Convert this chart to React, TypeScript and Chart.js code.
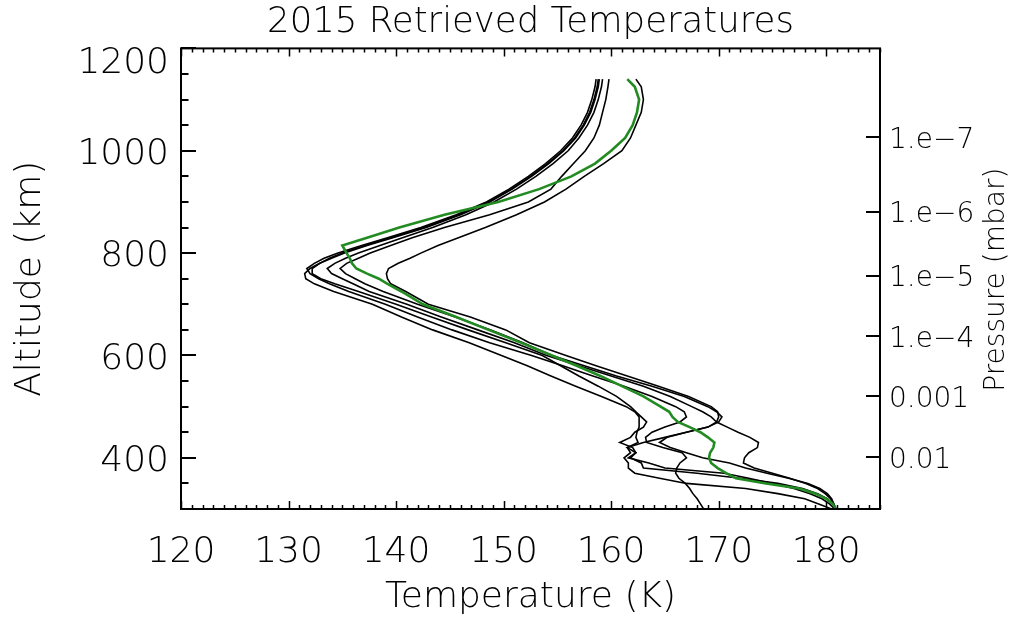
import React, { useEffect, useRef } from 'react';
import { Chart, registerables } from 'chart.js';

Chart.register(...registerables);

// ---------------- data ----------------
const altitudes = [
  300, 310, 320, 330, 340, 350, 360, 370, 380, 390, 400, 410, 420, 430, 440, 450, 460, 470, 480, 490, 500,
  520, 540, 560, 580, 600, 625, 650, 675, 700, 725, 740, 750, 760, 770, 780, 790, 800, 815, 830, 850,
  875, 900, 925, 950, 975, 1000, 1025, 1050, 1075, 1100, 1125, 1140,
];

const tempGreen = [
  180.9, 180.6, 180.0, 179.0, 177.5, 174.4, 171.6, 170.7, 169.9, 169.3, 169.1, 169.2, 169.5, 169.6, 169.0, 168.3, 167.3, 166.2, 165.7, 165.4, 164.6,
  163.0, 161.0, 159.0, 156.8, 154.5, 151.6, 148.6, 145.6, 142.5, 140.5, 139.2, 138.4, 137.3, 136.3, 135.9, 135.7, 135.4, 135.0, 137.3, 140.3,
  144.5, 149.5, 153.3, 156.3, 158.5, 160.0, 161.3, 162.0, 162.4, 162.6, 162.2, 161.5,
];

const tempR = [
  180.9, 180.7, 180.4, 179.9, 179.2, 178.1, 176.6, 175.0, 173.3, 172.3, 172.4, 172.8, 173.6, 173.7, 172.9, 171.8, 170.8, 169.8, 170.0, 169.9, 169.3,
  167.2, 164.4, 161.5, 158.6, 155.8, 152.4, 150.2, 146.9, 143.0, 140.9, 139.5, 139.2, 139.1, 139.3, 140.2, 141.3, 142.3, 143.9, 145.8, 148.3,
  151.2, 153.8, 155.8, 157.5, 159.3, 161.0, 161.8, 162.3, 162.8, 163.0, 162.8, 162.3,
];

const tempC1 = [
  168.6, 168.3, 168.0, 167.6, 167.3, 166.9, 166.3, 166.0, 166.1, 166.4, 167.0, 166.6, 164.8, 163.3, 163.2, 163.8, 165.0, 166.4, 167.0, 166.8, 166.0,
  163.8, 161.2, 158.3, 155.5, 152.6, 148.7, 145.2, 142.0, 139.0, 135.6, 133.8, 132.8, 132.0, 131.7, 132.4, 133.3, 134.6, 136.8, 139.2, 142.3,
  145.6, 148.4, 150.5, 152.3, 153.9, 155.3, 156.4, 157.2, 157.8, 158.2, 158.5, 158.6,
];

const tempC2 = [
  180.5, 179.3, 178.0, 175.5, 172.5, 167.0, 164.5, 162.2, 161.6, 161.6, 161.2, 161.8, 161.5, 162.5, 162.3, 162.4, 162.6, 162.6, 162.6, 162.2, 161.4,
  159.1, 156.7, 154.4, 152.2, 149.8, 146.8, 143.4, 140.5, 137.8, 134.2, 132.4, 131.6, 131.5, 132.0, 132.9, 134.0, 135.2, 137.3, 139.7, 142.8,
  146.0, 148.7, 150.8, 152.6, 154.2, 155.6, 156.7, 157.5, 158.1, 158.5, 158.8, 158.9,
];

const tempC3 = [
  180.9, 180.6, 180.1, 179.2, 177.8, 175.5, 172.0, 168.0, 163.0, 162.8, 161.8, 162.3, 161.5, 163.0, 165.0, 167.0, 169.0, 169.8, 169.3, 168.5, 167.5,
  165.5, 163.0, 160.0, 157.0, 154.0, 151.0, 147.6, 144.2, 141.0, 137.5, 136.0, 135.0, 134.0, 133.6, 134.3, 135.3, 136.5, 138.5, 140.6, 143.4,
  146.5, 149.1, 151.2, 153.0, 154.6, 156.0, 157.0, 157.8, 158.4, 158.8, 159.1, 159.2,
];

const tempC4 = [
  180.9, 180.7, 180.5, 180.1, 179.4, 178.3, 176.5, 174.5, 172.5, 171.0, 168.5, 167.0, 165.5, 164.5, 165.2, 167.0, 169.0, 170.0, 170.3, 169.8, 169.0,
  166.8, 163.8, 160.5, 157.5, 154.5, 151.8, 148.8, 145.5, 142.0, 138.8, 137.1, 136.2, 135.3, 134.8, 135.4, 136.5, 137.6, 139.5, 141.5, 144.5,
  148.7, 152.3, 154.4, 155.4, 156.5, 157.6, 158.4, 158.9, 159.2, 159.5, 159.7, 159.8,
];

const tempC5 = [
  180.8, 180.3, 179.6, 178.5, 177.0, 175.0, 172.8, 170.5, 165.0, 163.5, 161.6, 162.3, 162.0, 160.8, 161.8, 162.2, 163.0, 163.3, 162.8, 162.3, 161.8,
  160.5, 158.8, 157.0, 155.3, 153.6, 150.2, 146.7, 143.3, 140.0, 136.5, 134.3, 133.0, 132.2, 132.2, 132.9, 133.8, 135.0, 137.1, 139.5, 142.6,
  145.8, 148.6, 150.7, 152.5, 154.1, 155.5, 156.6, 157.4, 158.0, 158.4, 158.7, 158.8,
];

const blackProfiles = [tempR, tempC1, tempC2, tempC3, tempC4, tempC5];

const xTickValues = [120, 130, 140, 150, 160, 170, 180];
const yTickValues = [400, 600, 800, 1000, 1200];
const pressureLabels = ['1.e\u22127', '1.e\u22126', '1.e\u22125', '1.e\u22124', '0.001', '0.01'];
const pressureAltitudes = [1027, 881, 756, 638, 521, 402];

const X_MIN = 120;
const X_MAX = 185;
const Y_MIN = 300;
const Y_MAX = 1200;

const FONT_FAMILY = '"DejaVu Sans", "Liberation Sans", sans-serif';
const FONT_WEIGHT = 200;

// ---------------- plugin: frame, inward ticks, right title ----------------
const framePlugin = {
  id: 'frameTicks',
  afterDraw(chart: any) {
    const { ctx, chartArea } = chart;
    const { left, right, top, bottom } = chartArea;
    const xs = chart.scales.x;
    const ys = chart.scales.y;
    const ys2 = chart.scales.y2;
    ctx.save();
    ctx.strokeStyle = '#000';
    ctx.lineWidth = 2;
    ctx.strokeRect(left, top, right - left, bottom - top);

    ctx.lineWidth = 1.5;
    ctx.beginPath();
    for (let v = X_MIN; v <= X_MAX; v += 1) {
      const px = Math.round(xs.getPixelForValue(v)) + 0.5;
      const major = v % 10 === 0;
      const len = major ? 8 : 4;
      ctx.moveTo(px, bottom);
      ctx.lineTo(px, bottom - len);
      ctx.moveTo(px, top);
      ctx.lineTo(px, top + len);
    }
    ctx.stroke();

    ctx.lineWidth = 2;
    ctx.beginPath();
    for (let a = Y_MIN; a <= Y_MAX; a += 50) {
      const py = Math.round(ys.getPixelForValue(a));
      const major = a % 200 === 0;
      const len = major ? 15 : 7.5;
      ctx.moveTo(left, py);
      ctx.lineTo(left + len, py);
    }
    pressureAltitudes.forEach((a) => {
      const py = Math.round(ys2.getPixelForValue(a));
      ctx.moveTo(right, py);
      ctx.lineTo(right - 14, py);
    });
    ctx.stroke();

    // right axis title, reading bottom-to-top
    ctx.save();
    ctx.translate(997, (top + bottom) / 2 + 1);
    ctx.rotate(-Math.PI / 2);
    ctx.fillStyle = '#000';
    ctx.font = `${FONT_WEIGHT} 28px ${FONT_FAMILY}`;
    ctx.textAlign = 'center';
    ctx.textBaseline = 'middle';
    ctx.fillText('Pressure (mbar)', 0, 0);
    ctx.restore();
    ctx.restore();
  },
};

export default function App() {
  const canvasRef = useRef<HTMLCanvasElement | null>(null);

  useEffect(() => {
    if (!canvasRef.current) return;
    const toPoints = (temps: number[]) => altitudes.map((a, i) => ({ x: temps[i], y: a }));

    const datasets: any[] = [
      {
        label: '2015 mean',
        data: toPoints(tempGreen),
        borderColor: 'rgb(34,139,34)',
        borderWidth: 2.6,
        showLine: true,
        pointRadius: 0,
        tension: 0,
      },
      ...blackProfiles.map((p, i) => ({
        label: `profile ${i + 1}`,
        data: toPoints(p),
        borderColor: '#000',
        borderWidth: 1.6,
        showLine: true,
        pointRadius: 0,
        tension: 0,
      })),
    ];

    const tickFont = { family: FONT_FAMILY, size: 36, weight: FONT_WEIGHT as any };

    const chart = new Chart(canvasRef.current, {
      type: 'scatter',
      data: { datasets },
      plugins: [framePlugin],
      options: {
        animation: false,
        responsive: false,
        maintainAspectRatio: false,
        layout: { padding: 0 },
        plugins: {
          legend: { display: false },
          tooltip: { enabled: false },
          title: {
            display: true,
            text: '2015 Retrieved Temperatures',
            fullSize: false,
            color: '#000',
            font: { family: FONT_FAMILY, size: 35.5, weight: FONT_WEIGHT as any, lineHeight: 1.2 },
            padding: { top: 1.2, bottom: 4.6 },
          },
        },
        scales: {
          x: {
            type: 'linear',
            position: 'bottom',
            min: X_MIN,
            max: X_MAX,
            grid: { display: false, drawTicks: false },
            border: { display: false },
            afterBuildTicks: (s: any) => {
              s.ticks = xTickValues.map((v) => ({ value: v }));
            },
            afterFit: (s: any) => {
              s.height = 110;
            },
            ticks: {
              font: tickFont,
              color: '#000',
              padding: 22,
              maxRotation: 0,
              autoSkip: false,
              callback: (v: any) => String(v),
            },
            title: {
              display: true,
              text: 'Temperature (K)',
              color: '#000',
              font: { family: FONT_FAMILY, size: 36, weight: FONT_WEIGHT as any },
              padding: { top: 0, bottom: 0 },
            },
          },
          y: {
            type: 'linear',
            position: 'left',
            min: Y_MIN,
            max: Y_MAX,
            grid: { display: false, drawTicks: false },
            border: { display: false },
            afterBuildTicks: (s: any) => {
              s.ticks = yTickValues.map((v) => ({ value: v }));
            },
            afterFit: (s: any) => {
              s.width = 181;
            },
            ticks: {
              font: { ...tickFont, lineHeight: 0.644 },
              color: '#000',
              padding: 12,
              labelOffset: 4,
              autoSkip: false,
              callback: (v: any) => (v === Y_MAX ? ['', String(v)] : String(v)),
            },
            title: {
              display: true,
              text: 'Altitude (km)',
              color: '#000',
              font: { family: FONT_FAMILY, size: 36, weight: FONT_WEIGHT as any },
              padding: { top: 9, bottom: 0 },
            },
          },
          y2: {
            type: 'linear',
            position: 'right',
            min: Y_MIN,
            max: Y_MAX,
            grid: { display: false, drawTicks: false },
            border: { display: false },
            afterBuildTicks: (s: any) => {
              s.ticks = pressureAltitudes.map((v) => ({ value: v }));
            },
            afterFit: (s: any) => {
              s.width = 134;
            },
            ticks: {
              font: { family: FONT_FAMILY, size: 28, weight: FONT_WEIGHT as any },
              color: '#000',
              padding: 9,
              labelOffset: 3.5,
              autoSkip: false,
              callback: (_v: any, i: number) => pressureLabels[i],
            },
          },
        },
      },
    });

    return () => {
      chart.destroy();
    };
  }, []);

  return (
    <div style={{ position: 'fixed', left: 0, top: 0, width: 1014, height: 619, background: '#fff' }}>
      <canvas ref={canvasRef} width={1014} height={619} style={{ display: 'block' }} />
    </div>
  );
}
